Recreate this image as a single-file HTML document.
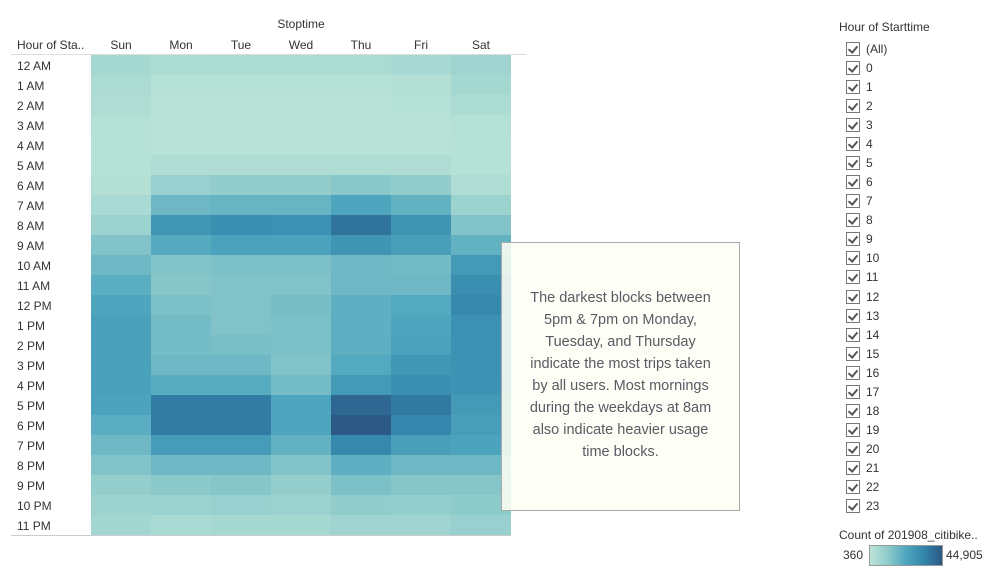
<!DOCTYPE html>
<html><head><meta charset="utf-8"><style>
body{margin:0;width:1002px;height:573px;background:#fff;font-family:"Liberation Sans",sans-serif;position:relative;overflow:hidden;color:#333}
.abs{position:absolute}
.rl{position:absolute;left:17px;font-size:12px;color:#333;line-height:20px;margin-top:1px}
.ch{position:absolute;top:38px;width:60px;text-align:center;font-size:12px;color:#333}
.cb{position:absolute;left:846px;width:12px;height:12px;border:1px solid #777;background:#fff}
.cb:after{content:"";position:absolute;left:3px;top:1px;width:4px;height:7px;border:solid #555;border-width:0 2px 2px 0;transform:rotate(40deg)}
.fl{position:absolute;left:866px;font-size:12px;color:#333;line-height:14px}
</style></head><body>
<div class="abs" style="left:271px;top:17px;width:60px;text-align:center;font-size:12px">Stoptime</div>
<div class="abs" style="left:17px;top:38px;font-size:12px">Hour of Sta..</div>
<div class="abs" style="left:11px;top:54px;width:515px;height:1px;background:#ddd"></div>
<div class="abs" style="left:11px;top:535px;width:500px;height:1px;background:#ccc"></div>
<svg id="hm" class="abs" style="left:0;top:0" width="520" height="540"></svg>
<div id="labels"></div>
<div class="abs" style="left:501px;top:242px;width:237px;height:267px;border:1px solid #aaa;background:rgba(253,254,244,0.88);display:flex;align-items:center;justify-content:center;text-align:center;font-size:14.5px;line-height:22px;color:#5a5a64">
<div style="margin-top:-4px">The darkest blocks between<br>5pm &amp; 7pm on Monday,<br>Tuesday, and Thursday<br>indicate the most trips taken<br>by all users. Most mornings<br>during the weekdays at 8am<br>also indicate heavier usage<br>time blocks.</div></div>
<div class="abs" style="left:839px;top:20px;font-size:12px">Hour of Starttime</div>
<div id="filters"></div>
<div class="abs" style="left:839px;top:528px;font-size:12px">Count of 201908_citibike..</div>
<div class="abs" style="left:843px;top:548px;font-size:12px">360</div>
<div class="abs" style="left:869px;top:545px;width:72px;height:19px;border:1px solid #999;background:linear-gradient(to right,#bce4d8,#8ecbcb,#4ea6be,#3385ab,#2c5985)"></div>
<div class="abs" style="left:946px;top:548px;font-size:12px">44,905</div>
<script>
const days=["Sun","Mon","Tue","Wed","Thu","Fri","Sat"];
const hours=["12 AM","1 AM","2 AM","3 AM","4 AM","5 AM","6 AM","7 AM","8 AM","9 AM","10 AM","11 AM","12 PM","1 PM","2 PM","3 PM","4 PM","5 PM","6 PM","7 PM","8 PM","9 PM","10 PM","11 PM"];
const values=[
[5700,4000,4400,4400,4400,5300,7500],
[4400,1700,1700,1700,1700,2600,5700],
[3500,1300,1300,1300,1300,1700,4000],
[2200,900,900,900,900,1300,2200],
[1700,900,900,900,900,1300,1700],
[1700,3500,3500,3500,3500,3500,1700],
[2600,9300,10600,10600,12400,10600,3500],
[4900,17300,18200,18200,22700,19100,8000],
[8000,28000,30700,29800,38200,28900,13800],
[13800,21300,24000,24000,28400,24900,19100],
[17300,13800,14600,14600,17300,16400,27100],
[20400,12900,13800,13800,17300,17300,30700],
[22700,14600,13800,15500,20000,21800,32400],
[24400,16000,13800,14600,20000,22700,29800],
[24400,16000,15100,14600,20000,24000,29800],
[24400,17300,17300,13800,21800,28000,29800],
[24400,20900,20900,16000,27100,30700,29300],
[23500,36000,36000,22700,41300,36900,27100],
[20400,36000,36000,22700,44905,33300,25300],
[17300,26200,26200,19100,32400,24900,23500],
[13800,17300,17300,13800,20000,17300,17300],
[10200,12000,12900,10200,14600,12900,12900],
[8000,8400,9300,8400,10600,10200,11500],
[6600,4900,5700,5700,7500,7500,9300]];
const vMin=360,vMax=44905;
const stops=[[188,228,216],[142,203,203],[78,166,190],[51,133,171],[44,89,133]];
function color(v){let t=Math.max(0,Math.min(1,(v-vMin)/(vMax-vMin)))*(stops.length-1);let i=Math.min(Math.floor(t),stops.length-2),f=t-i;const a=stops[i],b=stops[i+1];return`rgb(${a.map((c,k)=>Math.round(c+(b[k]-c)*f)).join(",")})`;}
const x0=91,cw=60,y0=55,rh=20;
function xs(d){return x0+d*cw;} function ys(h){return y0+h*rh;}
const svg=document.getElementById('hm'),ns="http://www.w3.org/2000/svg";
values.forEach((row,h)=>row.forEach((v,d)=>{const r=document.createElementNS(ns,'rect');
r.setAttribute('x',xs(d));r.setAttribute('y',ys(h));r.setAttribute('width',cw);r.setAttribute('height',rh);r.setAttribute('fill',color(v));


svg.appendChild(r);}));
const L=document.getElementById('labels');
days.forEach((d,i)=>{const e=document.createElement('div');e.className='ch';e.style.left=xs(i)+'px';e.textContent=d;


L.appendChild(e);});
hours.forEach((h,i)=>{const e=document.createElement('div');e.className='rl';e.style.top=ys(i)+'px';e.textContent=h;


L.appendChild(e);});
const F=document.getElementById('filters');
["(All)"].concat([...Array(24).keys()].map(String)).forEach((t,i)=>{const y=42+i*19.04;
const c=document.createElement('div');c.className='cb';c.style.top=y+'px';


F.appendChild(c);
const l=document.createElement('div');l.className='fl';l.style.top=(y)+'px';l.textContent=t;


F.appendChild(l);});
</script>
</body></html>
